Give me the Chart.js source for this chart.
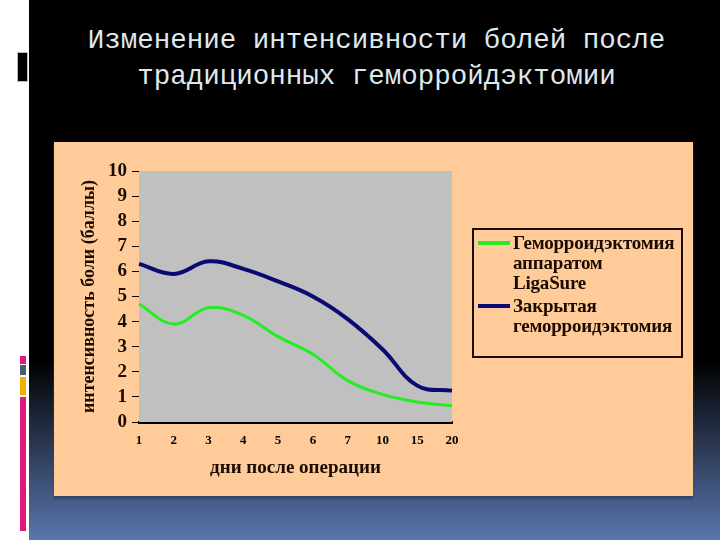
<!DOCTYPE html>
<html>
<head>
<meta charset="utf-8">
<script src="https://cdn.jsdelivr.net/npm/chart.js@4.4.1/dist/chart.umd.min.js"></script>
<style>
  html, body { margin:0; padding:0; }
  body { width:720px; height:540px; overflow:hidden; position:relative; background:#ffffff; }
  #bg { position:absolute; left:29px; top:0; width:691px; height:540px;
        background:linear-gradient(180deg, #000 0px, #000 360px, #5a76ad 540px); }
  .deco { position:absolute; }
  .title { position:absolute; left:0; width:753px; text-align:center; color:#dfe8ef;
           font-family:"Liberation Mono", monospace; font-size:27.5px; line-height:36px; white-space:pre; }
  #panel { position:absolute; left:54px; top:142px; width:639px; height:354px; background:#ffcc99;
           box-shadow:0 3px 2px #34466a; }
  #chart { position:absolute; left:0; top:0; }
  #legend { position:absolute; left:472px; top:228px; width:211px; height:130px; box-sizing:border-box;
            border:2px solid #1a0a00; font-family:"Liberation Serif", serif; font-weight:bold;
            font-size:19px; line-height:20px; color:#1a0a00; letter-spacing:-0.2px; }
  .item { position:absolute; left:39px; white-space:nowrap; }
  .sw { position:absolute; left:-35px; top:8px; width:32px; height:4px; }
</style>
</head>
<body>
<div id="bg"></div>
<div class="deco" style="left:17px;top:52px;width:9px;height:28px;background:#000;border:1px solid #bbb;"></div>
<div class="deco" style="left:20px;top:356px;width:6px;height:8px;background:#e0197f;"></div>
<div class="deco" style="left:20px;top:365px;width:6px;height:10px;background:#4a5a70;"></div>
<div class="deco" style="left:20px;top:377px;width:6px;height:18px;background:#f0b000;"></div>
<div class="deco" style="left:20px;top:397px;width:6px;height:134px;background:#e0197f;"></div>
<div class="title" style="top:23px;">Изменение интенсивности болей после</div>
<div class="title" style="top:59px;">традиционных геморройдэктомии</div>
<div id="panel"></div>
<canvas id="chart" width="720" height="540"></canvas>
<div id="legend">
  <div class="item" style="top:3px;"><span class="sw" style="background:#22ee22;"></span>Геморроидэктомия<br>аппаратом<br>LigaSure</div>
  <div class="item" style="top:66px;"><span class="sw" style="background:#0a0a72;"></span>Закрытая<br>геморроидэктомия</div>
</div>
<script>
const days = ['1','2','3','4','5','6','7','10','15','20'];
const ligaSure = [4.7, 3.9, 4.55, 4.25, 3.4, 2.7, 1.65, 1.1, 0.8, 0.65];
const closedHem = [6.3, 5.9, 6.4, 6.1, 5.6, 5.0, 4.1, 2.9, 1.45, 1.25];
const seriesNames = ['Геморроидэктомия аппаратом LigaSure', 'Закрытая геморроидэктомия'];
const yTitle = 'интенсивность боли (баллы)';
const xTitle = 'дни после операции';

const plotBg = {
  id: 'plotBg',
  beforeDatasetsDraw(chart) {
    const {ctx, chartArea:a} = chart;
    ctx.save();
    ctx.fillStyle = '#c0c0c0';
    ctx.fillRect(a.left, a.top, a.right - a.left, a.bottom - a.top);
    ctx.restore();
  }
};

new Chart(document.getElementById('chart'), {
  type: 'line',
  data: {
    labels: days,
    datasets: [
      { label: seriesNames[0], data: ligaSure, borderColor: '#22ee22', borderWidth: 3,
        pointRadius: 0, tension: 0.4, fill: false },
      { label: seriesNames[1], data: closedHem, borderColor: '#0a0a72', borderWidth: 4,
        pointRadius: 0, tension: 0.4, fill: false }
    ]
  },
  options: {
    responsive: false,
    animation: false,
    layout: { padding: { left: 69, right: 268, top: 171, bottom: 58 } },
    plugins: { legend: { display: false }, tooltip: { enabled: false } },
    scales: {
      x: {
        offset: false,
        grid: { display: false, drawTicks: false },
        border: { color: '#000', width: 3 },
        ticks: { color: '#000', autoSkip: false, maxRotation: 0, padding: 11,
                 font: { family: 'Liberation Serif', size: 13, weight: 'bold' } },
        title: { display: true, text: xTitle, color: '#1a0a00', padding: { top: 0, bottom: 3 },
                 font: { family: 'Liberation Serif', size: 19, weight: 'bold' } },
        afterFit: s => { s.height = 60; }
      },
      y: {
        min: 0, max: 10,
        grid: { drawOnChartArea: false, color: '#000', tickLength: 7 },
        border: { color: '#000', width: 1 },
        ticks: { stepSize: 1, autoSkip: false, color: '#1a0a00', padding: 5,
                 font: { family: 'Liberation Serif', size: 19, weight: 'bold' } },
        title: { display: true, text: yTitle, color: '#1a0a00', padding: { top: 10, bottom: 0 },
                 font: { family: 'Liberation Serif', size: 18, weight: 'bold' } },
        afterFit: s => { s.width = 70; }
      }
    }
  },
  plugins: [plotBg]
});
</script>
</body>
</html>
